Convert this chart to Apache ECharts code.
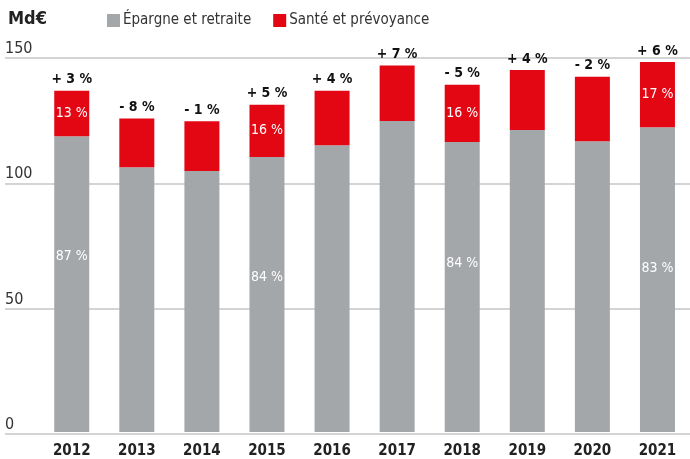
<!DOCTYPE html>
<html>
<head>
<meta charset="utf-8">
<script src="https://cdn.jsdelivr.net/npm/echarts@6/dist/echarts.min.js"></script>
<style>
  html, body { margin: 0; padding: 0; background: #fff; }
  #chart { width: 690px; height: 459px; }
</style>
</head>
<body>
<div id="chart"></div>
<script>
  var years = ['2012', '2013', '2014', '2015', '2016', '2017', '2018', '2019', '2020', '2021']
  var epargne = [118.6, 106.2, 104.7, 110.3, 115.0, 124.7, 116.3, 121.1, 116.6, 122.2]
  var sante = [18.3, 19.5, 19.9, 21.0, 21.9, 22.3, 23.0, 24.1, 25.9, 26.2]
  var croissance = ['+ 3 %', '- 8 %', '- 1 %', '+ 5 %', '+ 4 %', '+ 7 %', '- 5 %', '+ 4 %', '- 2 %', '+ 6 %']
  var partEpargne = ['87 %', '', '', '84 %', '', '', '84 %', '', '', '83 %']
  var partSante = ['13 %', '', '', '16 %', '', '', '16 %', '', '', '17 %']
  var yTicks = [0, 50, 100, 150]

  var font = "'Liberation Sans Narrow', 'DejaVu Sans Condensed', sans-serif"
  var grey = '#a4a7aa'
  var red = '#e30613'
  // decalage vertical des etiquettes dans les barres grises
  var greyOffsets = [-28, 0, 0, -17, 0, 0, -24, 0, 0, -11]

  var myEcharts = echarts.init(document.getElementById('chart'))

  var option = {
    animation: false,
    textStyle: { fontFamily: font },
    title: {
      text: 'Md€',
      left: 3,
      top: 5,
      textStyle: { fontFamily: font, fontSize: 18, fontWeight: 'bold', color: '#222' }
    },
    legend: {
      left: 102,
      top: 8,
      icon: 'rect',
      itemWidth: 13,
      itemHeight: 13,
      itemGap: 22,
      textStyle: { fontFamily: font, fontSize: 15, color: '#333', padding: [0, 0, 0, -2] },
      data: ['Épargne et retraite', 'Santé et prévoyance']
    },
    grid: [
      { left: 5, right: 0, top: 58, height: 376 },
      { left: 39.2, width: 665.6, top: 58, height: 376 }
    ],
    xAxis: [
      { gridIndex: 0, type: 'category', data: years, show: false },
      {
        gridIndex: 1,
        type: 'category',
        data: years,
        axisLine: { show: false },
        axisTick: { show: false },
        axisLabel: { margin: 12, fontFamily: font, fontSize: 15, fontWeight: 'bold', color: '#222' }
      }
    ],
    yAxis: [
      {
        gridIndex: 0,
        type: 'value',
        min: 0,
        max: 150,
        interval: 50,
        axisLine: { show: false },
        axisTick: { show: false },
        splitLine: { lineStyle: { color: '#c6c6c6', width: 1.5 } },
        axisLabel: {
          inside: true,
          margin: 0,
          verticalAlign: 'bottom',
          padding: [0, 0, 1, 0],
          fontFamily: font,
          fontSize: 16,
          color: '#333',
          formatter: function (v) { return yTicks.indexOf(v) >= 0 ? String(v) : '' }
        }
      },
      {
        gridIndex: 1,
        type: 'value',
        min: 0,
        max: 150,
        interval: 50,
        show: false
      }
    ],
    series: [
      {
        name: 'Épargne et retraite',
        type: 'bar',
        stack: 'total',
        xAxisIndex: 1,
        yAxisIndex: 1,
        barWidth: 35,
        itemStyle: { color: grey },
        data: epargne.map(function (v, i) {
          return {
            value: v,
            label: {
              show: partEpargne[i] !== '',
              position: 'inside',
              offset: [0, greyOffsets[i]],
              formatter: partEpargne[i],
              color: '#fff',
              fontFamily: font,
              fontSize: 14
            }
          }
        })
      },
      {
        name: 'Santé et prévoyance',
        type: 'bar',
        stack: 'total',
        xAxisIndex: 1,
        yAxisIndex: 1,
        barWidth: 35,
        itemStyle: { color: red },
        data: sante.map(function (v, i) {
          return {
            value: v,
            label: {
              show: partSante[i] !== '',
              position: 'inside',
              formatter: partSante[i],
              color: '#fff',
              fontFamily: font,
              fontSize: 14
            }
          }
        })
      },
      {
        name: 'croissance',
        type: 'bar',
        stack: 'total',
        xAxisIndex: 1,
        yAxisIndex: 1,
        barWidth: 35,
        silent: true,
        itemStyle: { color: 'transparent' },
        data: croissance.map(function () { return 0 }),
        label: {
          show: true,
          position: 'top',
          distance: 4,
          formatter: function (p) { return croissance[p.dataIndex] },
          color: '#111',
          fontFamily: font,
          fontSize: 14,
          fontWeight: 'bold'
        }
      }
    ]
  }

  myEcharts.setOption(option)
</script>
</body>
</html>
